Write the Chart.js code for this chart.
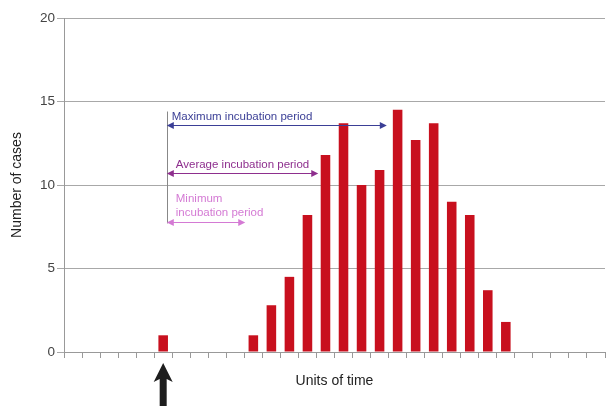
<!DOCTYPE html>
<html>
<head>
<meta charset="utf-8">
<script src="https://cdn.jsdelivr.net/npm/chart.js@4/dist/chart.umd.min.js"></script>
<style>
html,body{margin:0;padding:0;background:#fff;}
#wrap{width:609px;height:406px;}
</style>
</head>
<body>
<div id="wrap"><canvas id="c" width="609" height="406"></canvas></div>
<script>
// ---- data ----
const timeUnits = [1,2,3,4,5,6,7,8,9,10,11,12,13,14,15,16,17,18,19,20,21,22,23,24,25,26,27,28,29,30];
const cases = [0,0,0,0,0,1,0,0,0,0,1,2.8,4.5,8.2,11.8,13.7,10,10.9,14.5,12.7,13.7,9,8.2,3.7,1.8,0,0,0,0,0];
const yTicks = [0,5,10,15,20];
const exposureIndex = 5;
const periodNames = ["Maximum incubation period", "Average incubation period", ["Minimum", "incubation period"]];
const periodStart = 5.2;
const periodEnds = [17.4, 13.6, 9.55];
const periodLevels = [13.6, 10.73, 7.8];
const periodColors = ["#3b3f96", "#8e2f8e", "#d47ad4"];
const markerTop = 14.4;
const markerBottom = 7.7;

const FONT = '"Liberation Sans", Arial, sans-serif';

const annotations = {
  id: 'annotations',
  afterDatasetsDraw(chart) {
    const ctx = chart.ctx;
    const xs = chart.scales.x, ys = chart.scales.y;
    const x0 = xs.getPixelForValue(periodStart);
    ctx.save();
    ctx.strokeStyle = '#888';
    ctx.lineWidth = 1;
    ctx.beginPath();
    ctx.moveTo(Math.round(x0) + 0.5, ys.getPixelForValue(markerTop));
    ctx.lineTo(Math.round(x0) + 0.5, ys.getPixelForValue(markerBottom));
    ctx.stroke();
    ctx.font = '11.5px ' + FONT;
    ctx.textBaseline = 'middle';
    ctx.textAlign = 'left';
    for (let i = 0; i < periodNames.length; i++) {
      const y = Math.round(ys.getPixelForValue(periodLevels[i])) + 0.5;
      const x1 = xs.getPixelForValue(periodEnds[i]);
      const col = periodColors[i];
      ctx.strokeStyle = col;
      ctx.fillStyle = col;
      ctx.lineWidth = 1;
      ctx.beginPath();
      ctx.moveTo(x0 + 4, y);
      ctx.lineTo(x1 - 4, y);
      ctx.stroke();
      ctx.beginPath();
      ctx.moveTo(x0, y); ctx.lineTo(x0 + 7, y - 3.5); ctx.lineTo(x0 + 7, y + 3.5); ctx.closePath(); ctx.fill();
      ctx.beginPath();
      ctx.moveTo(x1, y); ctx.lineTo(x1 - 7, y - 3.5); ctx.lineTo(x1 - 7, y + 3.5); ctx.closePath(); ctx.fill();
      const name = periodNames[i];
      if (Array.isArray(name)) {
        ctx.fillText(name[0], x0 + 9, y - 24);
        ctx.fillText(name[1], x0 + 9, y - 10);
      } else {
        ctx.fillText(name, x0 + 5 + (i === 1 ? 4 : 0), y - 8.5);
      }
    }
    const ax = xs.getPixelForValue(exposureIndex);
    const tip = chart.chartArea.bottom + 11;
    ctx.fillStyle = '#1e1e1e';
    ctx.beginPath();
    ctx.moveTo(ax, tip);
    ctx.lineTo(ax + 9.5, tip + 19);
    ctx.lineTo(ax + 3.5, tip + 16);
    ctx.lineTo(ax + 3.5, 406);
    ctx.lineTo(ax - 3.5, 406);
    ctx.lineTo(ax - 3.5, tip + 16);
    ctx.lineTo(ax - 9.5, tip + 19);
    ctx.closePath();
    ctx.fill();
    ctx.restore();
  }
};

new Chart(document.getElementById('c'), {
  type: 'bar',
  data: {
    labels: timeUnits,
    datasets: [{
      data: cases,
      backgroundColor: '#c8101e',
      borderWidth: 0,
      categoryPercentage: 1,
      barPercentage: 0.53
    }]
  },
  options: {
    responsive: false,
    animation: false,
    devicePixelRatio: 1,
    layout: { padding: { top: 18, right: 4, left: 0, bottom: 0 } },
    plugins: { legend: { display: false }, tooltip: { enabled: false } },
    scales: {
      x: {
        offset: true,
        ticks: { display: false },
        grid: { drawOnChartArea: false, drawTicks: true, tickLength: 6, color: '#999', offset: true },
        border: { color: '#999' },
        title: { display: true, text: 'Units of time', color: '#222', font: { family: FONT, size: 14 }, padding: { top: 0, bottom: 16.5 } },
        afterFit(s) { s.height = 54; }
      },
      y: {
        min: 0, max: 20,
        afterBuildTicks(s) { s.ticks = yTicks.map(v => ({ value: v })); },
        ticks: { color: '#444', padding: 2, font: { family: FONT, size: 13.5 } },
        grid: { color: '#a8a8a8', tickLength: 7 },
        border: { color: '#999' },
        title: { display: true, text: 'Number of cases', color: '#222', font: { family: FONT, size: 14 }, padding: { top: 9, bottom: 0 } },
        afterFit(s) { s.width = 64; }
      }
    }
  },
  plugins: [annotations]
});
</script>
</body>
</html>
